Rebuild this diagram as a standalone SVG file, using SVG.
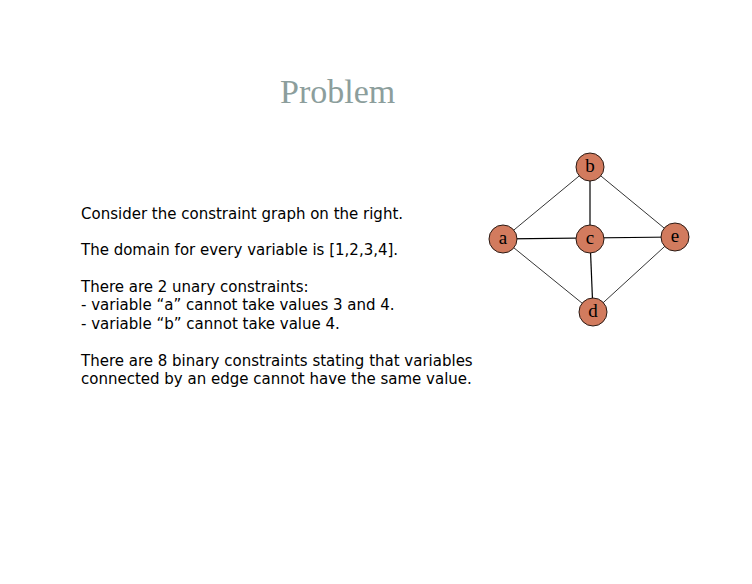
<svg xmlns="http://www.w3.org/2000/svg" width="752" height="584" viewBox="0 0 752 584">
<style>
.t{font-family:"DejaVu Sans",Verdana,sans-serif;font-size:15px;fill:#000}
.n circle{fill:#D27B5E;stroke:#2a1a14;stroke-width:1}
.n text{font-family:"Liberation Serif","Times New Roman",serif;font-size:19px;text-anchor:middle;fill:#000}
.e line{stroke:#000;stroke-width:0.8}
.e line.h{stroke-width:1.2}
</style>
<rect width="752" height="584" fill="#fff"/>
<text x="280" y="103" font-family="Liberation Serif,Times New Roman,serif" font-size="34" fill="#8C9E9C">Problem</text>
<g class="t">
<text x="81" y="219">Consider the constraint graph on the right.</text>
<text x="81" y="255">The domain for every variable is [1,2,3,4].</text>
<text x="81" y="292">There are 2 unary constraints:</text>
<text x="81" y="310">- variable “a” cannot take values 3 and 4.</text>
<text x="81" y="329">- variable “b” cannot take value 4.</text>
<text x="81" y="366">There are 8 binary constraints stating that variables</text>
<text x="81" y="384">connected by an edge cannot have the same value.</text>
</g>
<g class="e" id="edges">
<line x1="590" y1="167" x2="503" y2="239"/>
<line class="h" x1="590" y1="167" x2="590" y2="239"/>
<line x1="590" y1="167" x2="675" y2="237"/>
<line class="h" x1="503" y1="239" x2="675" y2="237"/>
<line x1="503" y1="239" x2="593" y2="312"/>
<line class="h" x1="590" y1="239" x2="593" y2="312"/>
<line x1="675" y1="237" x2="593" y2="312"/>
</g>
<g class="n" id="node-b"><circle cx="590" cy="167" r="14"/><text x="590" y="172">b</text></g>
<g class="n" id="node-a"><circle cx="503" cy="239" r="14"/><text x="503" y="244">a</text></g>
<g class="n" id="node-c"><circle cx="590" cy="239" r="14"/><text x="590" y="244">c</text></g>
<g class="n" id="node-e"><circle cx="675" cy="237" r="14"/><text x="675" y="242">e</text></g>
<g class="n" id="node-d"><circle cx="593" cy="312" r="14"/><text x="593" y="317">d</text></g>
</svg>
